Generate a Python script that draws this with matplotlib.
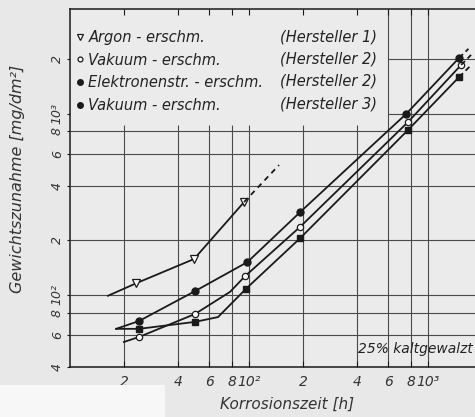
import matplotlib
matplotlib.use("Agg")
import matplotlib.pyplot as plt
from matplotlib.patches import Rectangle

# Korrosionszeit [h] / Gewichtszunahme [mg/dm²]
argon_t = [16.3, 23.4, 49.3, 93.8]
argon_w = [99, 116, 158, 326]
argon_ext_t = [93.8, 147]
argon_ext_w = [326, 522]

vak2_t = [20.0, 24.3, 49.9, 78.3, 95, 193, 773, 1530]
vak2_w = [55, 58.6, 78.5, 104, 127, 238, 903, 1866]
vak2_ext_t = [1530, 1738]
vak2_ext_w = [1866, 2120]

elek_t = [18.1, 24.3, 49.9, 98, 193, 754, 1490]
elek_w = [65, 71.8, 105, 152, 287, 1000, 2040]
elek_ext_t = [1490, 1680]
elek_ext_w = [2040, 2290]

vak3_t = [18.1, 24.3, 49.9, 67.1, 96, 193, 773, 1490]
vak3_w = [65, 65, 71, 75.5, 108, 206, 816, 1600]
vak3_ext_t = [1490, 1720]
vak3_ext_w = [1600, 1840]

x_ticks = [20, 40, 60, 80, 100, 200, 400, 600, 800, 1000, 2000]
x_labels = ["2", "4", "6", "8", "10²", "2", "4", "6", "8", "10³", "2"]
y_ticks = [40, 60, 80, 100, 200, 400, 600, 800, 1000, 2000]
y_labels = ["4", "6", "8", "10²", "2", "4", "6", "8", "10³", "2"]

legend_names = ["Argon - erschm.", "Vakuum - erschm.",
                "Elektronenstr. - erschm.", "Vakuum - erschm."]
legend_makers = ["(Hersteller 1)", "(Hersteller 2)",
                 "(Hersteller 2)", "(Hersteller 3)"]

FONT = dict(family="DejaVu Sans", style="italic")
INK = "#1a1a1a"
GRID = "#4a4a4a"

fig = plt.figure(figsize=(4.75, 4.17), dpi=100, facecolor="#e8e8e8")
fig.patches.append(Rectangle((0, 0), 165 / 475, 32 / 417, transform=fig.transFigure,
                             facecolor="#f7f7f7", edgecolor="none", zorder=0))
# axes runs past the right edge like the cropped scan
ax = fig.add_axes([70 / 475, 50 / 417, 412 / 475, 358 / 417])
ax.set_facecolor("#ebebeb")
ax.set_xscale("log")
ax.set_yscale("log")
ax.set_xlim(10, 2000)
ax.set_ylim(40, 3800)

# grid: the upper-left part stays free for the legend
ax.vlines([20, 40, 60, 80, 100, 200, 400], 40, 870, color=GRID, lw=0.8, zorder=1)
ax.vlines([600, 800, 1000], 40, 3800, color=GRID, lw=0.8, zorder=1)
ax.hlines([60, 80, 100, 200, 400, 600, 800], 10, 2000, color=GRID, lw=0.8, zorder=1)
ax.hlines([1000, 2000], 600, 2000, color=GRID, lw=0.8, zorder=1)

line_kw = dict(color=INK, lw=1.3, zorder=3)
ax.plot(argon_t, argon_w, marker="v", ms=5.5, mfc="white", mec=INK, mew=0.9,
        markevery=[1, 2, 3], **line_kw)
ax.plot(argon_ext_t, argon_ext_w, ls=(0, (3, 2.5)), **line_kw)

ax.plot(vak2_t, vak2_w, marker="o", ms=4.5, mfc="white", mec=INK, mew=0.9,
        markevery=[1, 2, 4, 5, 6, 7], **line_kw)
ax.plot(vak2_ext_t, vak2_ext_w, ls=(0, (3, 2)), **line_kw)

ax.plot(elek_t, elek_w, marker="o", ms=5, mfc=INK, mec=INK,
        markevery=[1, 2, 3, 4, 5, 6], **line_kw)
ax.plot(elek_ext_t, elek_ext_w, ls=(0, (3, 2)), **line_kw)

ax.plot(vak3_t, vak3_w, marker="s", ms=4.5, mfc=INK, mec=INK,
        markevery=[1, 2, 4, 5, 6, 7], **line_kw)
ax.plot(vak3_ext_t, vak3_ext_w, ls=(0, (3, 2)), **line_kw)

ax.set_xticks(x_ticks)
ax.set_xticklabels(x_labels, fontsize=10, **FONT)
ax.set_yticks(y_ticks)
ax.set_yticklabels(y_labels, fontsize=9, rotation=90, va="center", **FONT)
ax.minorticks_off()
ax.tick_params(axis="x", which="major", direction="in", top=True, length=4,
               width=0.8, pad=6, color=INK, labelcolor="#333333")
ax.tick_params(axis="y", which="major", direction="out", length=2.5,
               width=0.8, pad=2, color=INK, labelcolor="#333333")
for s in ax.spines.values():
    s.set_color(INK)
    s.set_linewidth(1.1)
ax.spines["right"].set_visible(False)

ax.set_xlabel("Korrosionszeit [h]", fontsize=11, color="#333333", **FONT)
ax.xaxis.set_label_coords(0.527, -0.083)
ax.set_ylabel("Gewichtszunahme [mg/dm²]", fontsize=11.5, color="#333333", **FONT)
ax.yaxis.set_label_coords(-0.11, 0.525)

# legend in two columns: marker + name, then the maker right-aligned
handles = [
    plt.Line2D([], [], ls="none", marker="v", ms=5, mfc="white", mec=INK, mew=0.9),
    plt.Line2D([], [], ls="none", marker="o", ms=3.5, mfc="white", mec=INK, mew=0.9),
    plt.Line2D([], [], ls="none", marker="o", ms=4, mfc=INK, mec=INK),
    plt.Line2D([], [], ls="none", marker="o", ms=4, mfc=INK, mec=INK),
]
leg = ax.legend(handles, legend_names, loc="upper left",
                bbox_to_anchor=(-0.01, 0.97), frameon=False,
                handlelength=0.5, handletextpad=0.35, labelspacing=0.52,
                borderaxespad=0.3, prop=dict(size=10.5, **FONT))
for t in leg.get_texts():
    t.set_color("#222222")
for i, name in enumerate(legend_makers):
    ax.text(0.745, 0.923 - i * 0.0625, name, transform=ax.transAxes,
            ha="right", va="center", fontsize=10.5, color="#222222", **FONT)

ax.text(405, 46, "25% kaltgewalzt", fontsize=10, color="#222222",
        ha="left", va="bottom", clip_on=False, **FONT)

fig.savefig("out.png", dpi=100, facecolor=fig.get_facecolor())
